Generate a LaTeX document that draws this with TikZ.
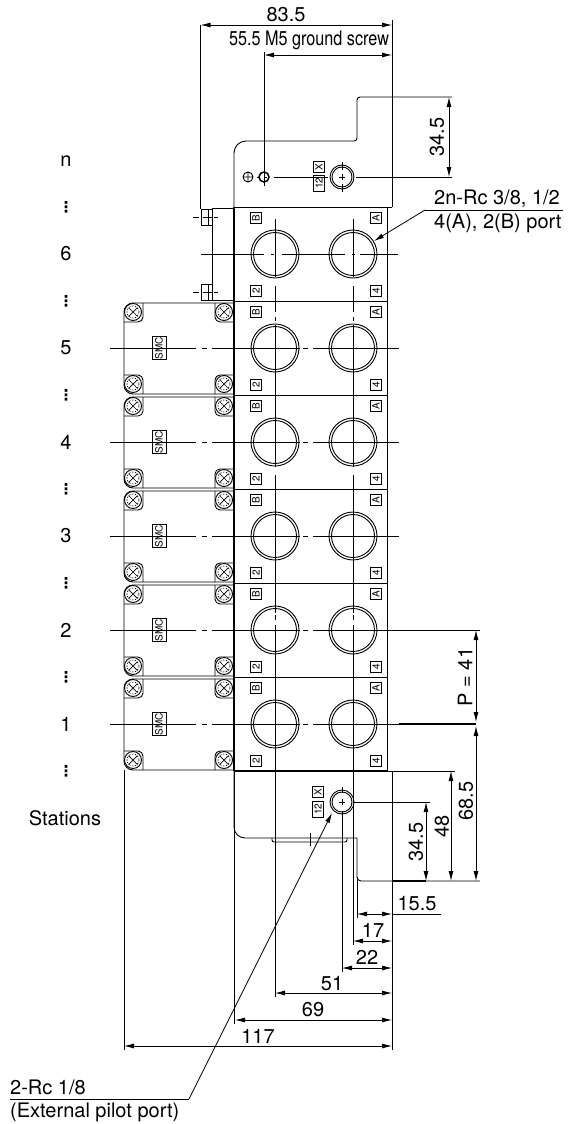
\documentclass[tikz,border=0pt]{standalone}
\usepackage{fontspec}
\setmainfont{TeX Gyre Heros}
\newfontfamily\narrowfont[FakeStretch=.81]{TeX Gyre Heros}
\newfontfamily\dotfont{DejaVu Sans}
\usetikzlibrary{arrows.meta}

\tikzset{
    outline/.style={line width=0.9pt},
    heavy/.style={line width=1.6pt},
    dimline/.style={line width=0.8pt,{Latex[length=10pt,width=5pt]}-{Latex[length=10pt,width=5pt]}},
    leader/.style={line width=0.8pt,-{Latex[length=10pt,width=5pt]}},
    dimtext/.style={inner sep=0pt,font=\fontsize{20}{22}\selectfont},
    tagbox/.style={draw,line width=0.8pt,rotate=90,inner sep=1pt,minimum height=11pt,minimum width=11pt,font=\fontsize{10}{11}\selectfont},
    cover/.style={line width=0.9pt,rounded corners=9pt},
    pocket/.style={line width=0.9pt,rounded corners=5pt}
}

\begin{document}
\begin{tikzpicture}[x=1pt,y=-1pt]
    \useasboundingbox (0,0) rectangle (581,1124);
    % station numbers
    \foreach \lab/\c in {n/161,6/254,5/348,4/442,3/536,2/630,1/724}
        \node[dimtext] (st\lab) at (66,\c) {\lab};
    \foreach \c in {207,301,395,489,583,677,771}
        \node[inner sep=0pt,font=\fontsize{15}{15}\dotfont\bfseries] (dots\c) at (66,\c) {⋮};
    \node[dimtext] (stations) at (65,818) {Stations};

    % top plate
    \draw[outline] (234,207) [rounded corners=12pt] -- (234,141) [rounded corners=3pt] -- (357,141) -- (357,97) -- (452,97);
    \draw[outline] (234,207) -- (392,207);
    % bottom plate
    \draw[outline] (234,771) [rounded corners=11pt] -- (234,838) [rounded corners=0pt] -- (357,838) [rounded corners=4pt] -- (357,881) -- (480,881);
    \draw[heavy] (392,881) -- (426,881);
    \draw[outline,rounded corners=2pt] (272,838) -- (272,842) -- (347,842) -- (347,838);
    \draw[outline] (310,833) -- (310,846);

    % valve stations
    \foreach \c in {254,348,442,536,630,724} {
        \draw[outline] (234,\c-47) rectangle (387,\c+47);
        \draw[outline] (275,\c) circle[radius=24] (275,\c) circle[radius=21.5];
        \draw[outline] (353,\c) circle[radius=24] (353,\c) circle[radius=21.5];
        \node[tagbox] (b\c) at (256,\c-36) {B};
        \node[tagbox] (t\c) at (256,\c+37) {2};
        \node[tagbox] (a\c) at (376,\c-36) {A};
        \node[tagbox] (f\c) at (376,\c+37) {4};
    }
    \draw[heavy] (234,207) -- (234,771);
    \draw[heavy] (234,771) -- (387,771);

    % solenoids
    \foreach \c in {348,442,536,630,724} {
        \draw[cover] (234,\c-45) -- (124,\c-45) -- (124,\c+46) -- (234,\c+46);
        \draw[pocket] (124,\c-26) -- (143,\c-26) -- (143,\c-45);
        \draw[pocket] (124,\c+27) -- (143,\c+27) -- (143,\c+46);
        \draw[pocket] (234,\c-26) -- (215,\c-26) -- (215,\c-45);
        \draw[pocket] (234,\c+27) -- (215,\c+27) -- (215,\c+46);
        \foreach \sx in {133,224} \foreach \sy in {-36,36} {
            \draw[outline,fill=white] (\sx,\c+\sy) circle[radius=8.5];
            \draw[line width=0.6pt,dash pattern=on 1.5pt off 1.5pt] (\sx,\c+\sy) circle[radius=6];
            \draw[line width=0.7pt] (\sx-4.5,\c+\sy-4.5) -- (\sx+4.5,\c+\sy+4.5) (\sx-4.5,\c+\sy+4.5) -- (\sx+4.5,\c+\sy-4.5);
        }
        \node[tagbox,minimum width=22pt,minimum height=14pt,font=\fontsize{10}{11}\selectfont,inner sep=0pt] (smc\c) at (159,\c) {SMC};
        % centre line
        \foreach \a/\b in {110/196,202/207,212/300,303/308,313/399}
            \draw[outline] (\a,\c) -- (\b,\c);
    }

    % station 6 bracket
    \draw[outline] (212,208) rectangle (234,300);
    \foreach \y in {209,284} {
        \draw[outline,fill=white] (201,\y) rectangle (212,\y+16);
        \draw[outline] (208,\y) -- (208,\y+16);
        \draw[outline] (193,\y+8) -- (199,\y+8) (203,\y+8) -- (212,\y+8) (214,\y+8) -- (218,\y+8);
    }
    \foreach \a/\b in {201/264,271/274,282/345,352/355,360/398}
        \draw[outline] (\a,254) -- (\b,254);

    % vertical centre lines
    \foreach \x in {275,353} {
        \foreach \a/\b in {219/277,286/312,317/321,325/467,475/613,615/620,625/700}
            \draw[outline] (\x,\a) -- (\x,\b);
    }

    % upper ports
    \node[tagbox] (xtop) at (319,167) {X};
    \node[tagbox,minimum width=16pt] (pilottop) at (319,183) {12};
    \draw[outline] (342,177) circle[radius=12] (342,177) circle[radius=10];
    \draw[outline] (342,162) -- (342,170) (342,174) -- (342,180) (342,184) -- (342,192) (339,177) -- (345,177);
    \draw[line width=1.5pt] (264,177) circle[radius=5];
    \draw[outline] (264,186) -- (264,168) (264,177) -- (267,177) (257,177) -- (260,177);
    \draw[outline] (248,177) circle[radius=5] (243,177) -- (253,177) (248,172) -- (248,182);

    % lower port
    \node[tagbox] (xlow) at (318,792) {X};
    \node[tagbox,minimum width=16pt] (pilotlow) at (318,809) {12};
    \draw[outline] (342,802) circle[radius=12] (342,802) circle[radius=10];
    \draw[outline] (342,787) -- (342,793) (339,802) -- (345,802) (342,799) -- (342,805);

    % extension lines
    \draw[outline] (200.5,25) -- (200.5,209);
    \draw[outline] (264,52) -- (264,168);
    \draw[outline] (392,20) -- (392,207);
    \draw[outline] (274,177) -- (328,177) (356,177) -- (452,177);
    \draw[outline] (399,630) -- (480,630);
    \draw[outline] (354,802) -- (430,802);
    \draw[outline] (387,771) -- (455,771);
    \draw[heavy] (399,724) -- (476,724);
    \draw[outline] (392,771) -- (392,1050);
    \draw[outline] (353,700) -- (353,945);
    \draw[outline] (357,877) -- (357,918);
    \draw[outline] (342,811) -- (342,972);
    \draw[outline] (275,700) -- (275,997);
    \draw[outline] (234,771) -- (234,1024);
    \draw[outline] (124,770) -- (124,1050);

    % dimensions
    \draw[dimline] (200.5,25) -- (392,25);
    \node[dimtext] (d835) at (286,15) {83.5};
    \draw[dimline] (264,55) -- (392,55);
    \node[dimtext,font=\fontsize{20}{22}\narrowfont] (dscrew) at (309,40) {55.5 M5 ground screw};
    \draw[dimline] (449,97) -- (449,177);
    \node[dimtext,rotate=90] (d345top) at (437,137) {34.5};
    \draw[dimline] (476,630) -- (476,722);
    \node[dimtext,rotate=90] (dpitch) at (465,677) {P = 41};
    \draw[dimline] (476,726) -- (476,881);
    \node[dimtext,rotate=90] (d685) at (466,801) {68.5};
    \draw[dimline] (451,771) -- (451,881);
    \node[dimtext,rotate=90] (d48) at (442,826) {48};
    \draw[dimline] (426,802) -- (426,881);
    \node[dimtext,rotate=90] (d345low) at (416,842) {34.5};
    \draw[dimline] (357,914) -- (392,914);
    \draw[outline] (392,914) -- (441,914);
    \node[dimtext] (d155) at (417,904) {15.5};
    \draw[dimline] (353,941) -- (392,941);
    \node[dimtext] (d17) at (373,930) {17};
    \draw[dimline] (342,968) -- (392,968);
    \node[dimtext] (d22) at (367,957) {22};
    \draw[dimline] (275,993) -- (392,993);
    \node[dimtext] (d51) at (332,984) {51};
    \draw[dimline] (235,1020) -- (392,1020);
    \node[dimtext] (d69) at (313,1010) {69};
    \draw[dimline] (124,1046) -- (392,1046);
    \node[dimtext] (d117) at (258,1036) {117};

    % port callouts
    \node[dimtext,anchor=west] (rcout1) at (434,199) {2n-Rc 3/8, 1/2};
    \node[dimtext,anchor=west] (rcout2) at (434,223) {4(A), 2(B) port};
    \coordinate (rcknee) at (425,210);
    \coordinate (rctip) at (374,241);
    \draw[outline] (563,210) -- (rcknee);
    \draw[leader] (rcknee) -- (rctip);
    \node[dimtext,anchor=west] (pilot1) at (10,1087) {2-Rc 1/8};
    \node[dimtext,anchor=west] (pilot2) at (10,1112) {(External pilot port)};
    \coordinate (pilotknee) at (189,1099);
    \coordinate (pilottip) at (332,813);
    \draw[outline] (10,1099) -- (pilotknee);
    \draw[leader] (pilotknee) -- (pilottip);
\end{tikzpicture}
\end{document}
